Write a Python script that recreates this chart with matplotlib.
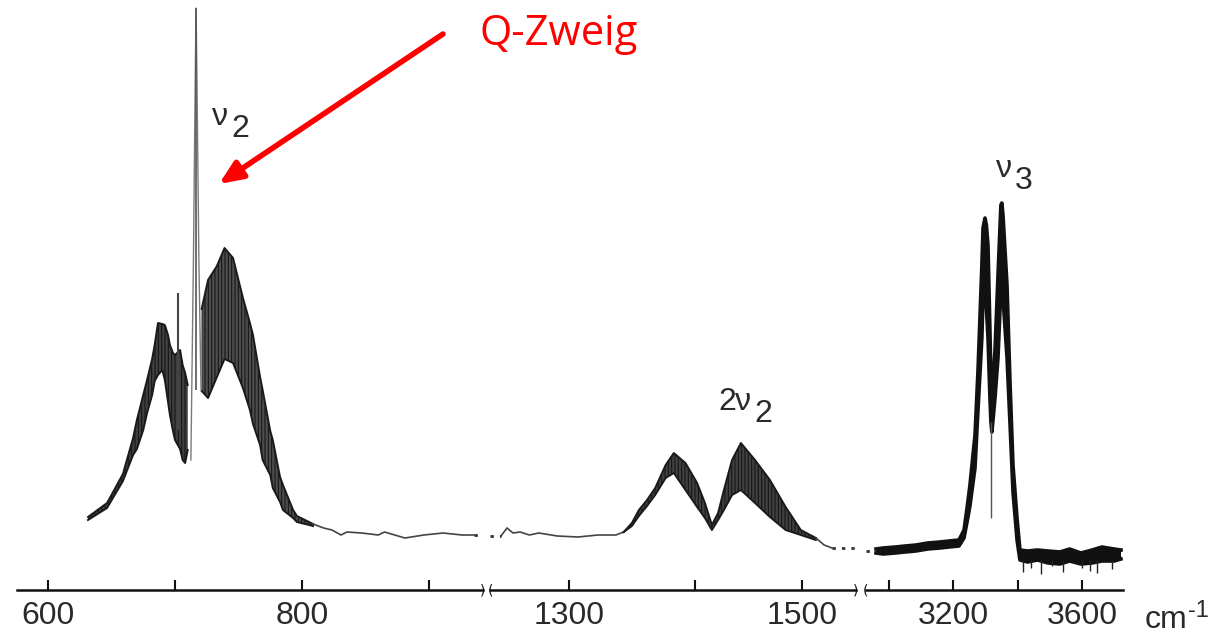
import matplotlib
matplotlib.use("Agg")
import matplotlib.pyplot as plt
from matplotlib.patches import FancyArrowPatch

# ---------------- data (wavenumber in cm^-1, absorbance in arbitrary units) -------------
# nu2 band, P-branch lobe: wavenumber, upper / lower envelope of rotational structure
nu2P_wn = [631.5, 646.5, 659, 667, 670, 675, 678, 682, 684, 686.6, 690, 692, 694.5, 696, 698.4, 700, 704, 706, 708, 710]
nu2P_hi = [73, 87, 116, 152, 170, 195, 210, 231, 245, 267, 266, 265, 255, 245, 237, 235, 240, 225, 217, 205]
nu2P_lo = [70, 82, 109, 135, 141, 160, 177, 195, 209, 215, 220, 210, 188, 175, 159, 150, 141, 130, 127, 140]
# nu2 band, sharp Q-branch peak
qbr_wn = [712.5, 714.5, 716.0, 716.6, 717.2, 718.8, 720.5]
qbr_h = [130, 330, 520, 582, 520, 330, 200]
# nu2 band, single sharp line in the P-branch
pline_wn = [702.4]
pline_top = [297]
pline_bot = [160]
# nu2 band, R-branch lobe
nu2R_wn = [721, 726, 733, 739, 745.7, 753.5, 759, 761.4, 767, 769, 775, 777, 782.7, 785, 793, 796, 808.7]
nu2R_hi = [281, 310, 324, 342, 332, 292, 267, 255, 213, 200, 159, 150, 113, 105, 80, 74, 66]
nu2R_lo = [199, 192, 213, 231, 227, 202, 180, 166, 145, 130, 115, 102, 88, 80, 72, 68, 64]
# baseline segment 1
base1_wn = [808.7, 817, 823.6, 830.7, 835.4, 847, 860, 865, 881, 896, 911, 926, 935.4]
base1_h = [66, 62, 60, 55, 58, 57, 55, 58, 52, 55, 57, 55, 55]
# baseline segment 2 (before 2nu2)
base2a_wn = [1241.6, 1246.8, 1252, 1258, 1266, 1274, 1290, 1307.7, 1325, 1340.3, 1347]
base2a_h = [54, 62, 57, 58, 55, 57, 54, 53, 55, 55, 58]
# 2nu2 band
nu2x2_wn = [1347, 1354, 1360, 1367, 1374, 1383, 1390, 1400, 1410, 1416.7, 1422.7, 1428, 1433, 1440, 1447.6, 1459.7, 1472.5, 1486, 1499, 1512]
nu2x2_hi = [58, 67, 80, 90, 102, 125, 137, 127, 107, 87, 65, 77, 100, 130, 147, 130, 110, 83, 60, 52]
nu2x2_lo = [58, 64, 74, 84, 95, 112, 117, 100, 83, 72, 60, 70, 80, 95, 100, 87, 73, 60, 55, 50]
base2b_wn = [1512, 1519, 1525.8]
base2b_h = [52, 45, 42]
# nu3 band (incl. noisy baseline)
nu3_wn = [2959.7, 2981.4, 3020, 3050, 3083.7, 3120, 3158, 3186, 3217, 3232.6, 3242, 3251, 3266.7, 3276, 3288,
          3291.5, 3297.7, 3302, 3307, 3313, 3316, 3319, 3322, 3328.7, 3338, 3347, 3350, 3353.5, 3366, 3375,
          3384.5, 3397, 3406, 3430, 3460, 3493, 3530, 3560, 3595, 3630, 3660, 3698, 3719.4]
nu3_hi = [41, 42, 43, 44, 45, 47, 48, 49, 50, 60, 82, 105, 155, 220, 325,
          362, 372, 365, 345, 260, 215, 185, 205, 240, 315, 385, 387, 375, 305, 210,
          125, 72, 40, 39, 40, 39, 38, 41, 37, 40, 43, 41, 40]
nu3_lo = [37, 36, 37, 38, 39, 41, 42, 43, 44, 52, 68, 84, 122, 180, 252,
          292, 302, 282, 252, 192, 168, 158, 168, 192, 232, 302, 307, 292, 232, 168,
          98, 50, 30, 28, 30, 27, 26, 29, 26, 27, 29, 29, 31]
nu3_line_wn = [3316]
nu3_line_top = [168]
nu3_line_bot = [72]
spike_wn = [3415, 3440, 3470, 3505, 3540, 3600, 3622, 3645, 3690]
spike_bot = [18, 22, 16, 24, 18, 22, 19, 17, 21]

# axis segments (broken wavenumber axis)
seg_xlim = [(575.6, 942.5), (1232.2, 1546.4), (2928.7, 3725.6)]
seg_major = [[600, 800], [1300, 1500], [3200, 3600]]
seg_minor = [[700, 900], [1408], [3000, 3400]]
# dotted connections across the breaks (segment, wavenumber start, end, level)
dots = [(0, 935.4, 942.5, 55), (1, 1232.2, 1241.6, 54), (1, 1525.8, 1546.4, 42), (2, 2928.7, 2959.7, 39)]

# ---------------- figure --------------------------------------------------------------
W, H = 1229, 634
fig = plt.figure(figsize=(W / 100, H / 100), dpi=100)
plt.rcParams['hatch.linewidth'] = 0.7
plt.rcParams['hatch.color'] = '#111111'

def fx(px):
    return px / W

def fy(py):
    return 1 - py / H

AX_Y = 590
seg_px = [(17, 483), (490, 856), (866, 1123)]
TXT = '#2a2a2a'
LABEL_FONT = ['Liberation Sans', 'DejaVu Sans']

axes = []
for i, (l, r) in enumerate(seg_px):
    ax = fig.add_axes([fx(l), fy(AX_Y), (r - l) / W, AX_Y / H])
    ax.set_xlim(*seg_xlim[i])
    ax.set_ylim(0, AX_Y)
    for s in ['left', 'right', 'top']:
        ax.spines[s].set_visible(False)
    ax.spines['bottom'].set_linewidth(1.8)
    ax.spines['bottom'].set_color('#111111')
    ax.set_yticks([])
    ax.set_xticks(seg_major[i])
    ax.set_xticks(seg_minor[i], minor=True)
    ax.tick_params(axis='x', which='both', direction='in', length=7.5, width=1.5, color='#111111')
    ax.tick_params(axis='x', which='major', pad=8, labelsize=23, labelcolor=TXT)
    for t in ax.get_xticklabels():
        t.set_family(LABEL_FONT)
    ax.patch.set_alpha(0)
    axes.append(ax)

def band(ax, wn, hi, lo, face='#404040'):
    ax.fill_between(wn, lo, hi, facecolor=face, edgecolor='none', lw=0)
    ax.fill_between(wn, lo, hi, facecolor='none', edgecolor='#111111', hatch='|||||', lw=0)
    ax.plot(wn, hi, color='#1a1a1a', lw=1.4)
    ax.plot(wn, lo, color='#1a1a1a', lw=1.4)

a1, a2, a3 = axes
# nu2
band(a1, nu2P_wn, nu2P_hi, nu2P_lo)
band(a1, nu2R_wn, nu2R_hi, nu2R_lo, face='#4d4d4d')
a1.plot(qbr_wn, qbr_h, color='#7a7a7a', lw=1.0)
a1.vlines(qbr_wn[3:4], [200], qbr_h[3:4], colors='#555555', lw=1.2)
a1.vlines(pline_wn, pline_bot, pline_top, colors='#444444', lw=1.5)
a1.plot(base1_wn, base1_h, color='#444444', lw=1.2)
# 2nu2
a2.plot(base2a_wn, base2a_h, color='#444444', lw=1.2)
band(a2, nu2x2_wn, nu2x2_hi, nu2x2_lo)
a2.plot(base2b_wn, base2b_h, color='#444444', lw=1.2)
# nu3
a3.fill_between(nu3_wn, nu3_lo, nu3_hi, facecolor='#111111', edgecolor='none')
a3.plot(nu3_wn, nu3_hi, color='#111111', lw=2.6)
a3.plot(nu3_wn, nu3_lo, color='#111111', lw=2.6)
a3.vlines(nu3_line_wn, nu3_line_bot, nu3_line_top, colors='#555555', lw=1.0)
a3.vlines(spike_wn, spike_bot, [30] * len(spike_wn), colors='#222222', lw=1.0)

for seg, x0, x1, lev in dots:
    axes[seg].plot([x0, x1], [lev, lev], ls=(0, (1.2, 2.2)), color='#333333', lw=2.0, clip_on=False)

# axis break marks
for px in [483, 490, 856, 866]:
    fig.text(fx(px), fy(AX_Y), ')' if px in (483, 856) else '(', ha='center', va='center',
             fontsize=10, color='#111111', family='DejaVu Sans')

# band labels
def nu_label(x_nu, y_base, sub, prefix=None):
    if prefix:
        fig.text(fx(x_nu - 17), fy(y_base), prefix, fontsize=23, color=TXT, family=LABEL_FONT, ha='left', va='baseline')
    fig.text(fx(x_nu), fy(y_base), 'ν', fontsize=23, color=TXT, family=LABEL_FONT, ha='left', va='baseline')
    fig.text(fx(x_nu + 19), fy(y_base + 12), sub, fontsize=23, color=TXT, family=LABEL_FONT, ha='left', va='baseline')

nu_label(212, 125, '2')
nu_label(735, 410, '2', prefix='2')
nu_label(996, 177, '3')

# unit label
fig.text(fx(1145), fy(628), 'cm', fontsize=23, color=TXT, family=LABEL_FONT, ha='left', va='baseline')
fig.text(fx(1188), fy(617), '-1', fontsize=17, color=TXT, family=LABEL_FONT, ha='left', va='baseline')

# red annotation
fig.text(fx(479), fy(45), 'Q-Zweig', fontsize=30, color='#ff0000', family=['Open Sans', 'DejaVu Sans'],
         ha='left', va='baseline')
arrow = FancyArrowPatch((fx(443), fy(34)), (fx(219), fy(184)), transform=fig.transFigure,
                        arrowstyle='-|>,head_length=14,head_width=6', color='#ff0000', lw=4,
                        mutation_scale=1, shrinkA=0, shrinkB=0)
fig.add_artist(arrow)

fig.savefig('out.png', dpi=100)
